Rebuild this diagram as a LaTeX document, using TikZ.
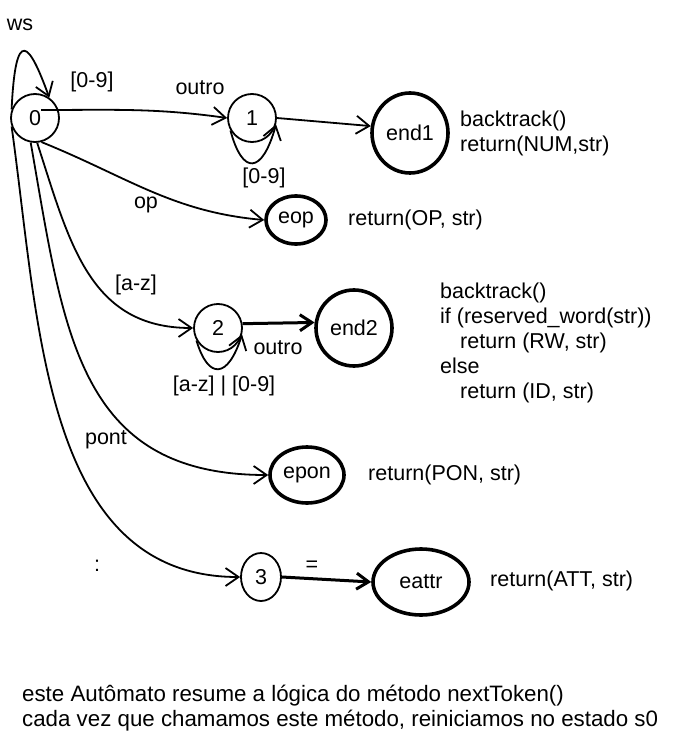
\documentclass[tikz,border=0pt]{standalone}
\usepackage{fontspec}
\setmainfont{Liberation Sans}
\usetikzlibrary{arrows.meta,shapes.geometric}
\begin{document}
\begin{tikzpicture}[x=1pt,y=-1pt,
  every node/.style={font=\fontsize{21.5}{25}\selectfont},
  st/.style={ellipse,draw,line width=1.8pt,inner sep=0pt},
  fin/.style={ellipse,draw,line width=3.6pt,inner sep=0pt},
  arr/.style={line width=1.8pt,-{Straight Barb[length=13pt,width=18pt]}},
  tarr/.style={line width=3pt,-{Straight Barb[length=12pt,width=16pt]}},
  txt/.style={anchor=west,align=left,inner sep=0pt},
  lbl/.style={inner sep=0pt}]
\useasboundingbox (0,0) rectangle (676,751);
\fill[white] (0,0) rectangle (676,751);
% states
\node[st,minimum width=48pt,minimum height=48pt] (s0) at (35,118) {0};
\node[st,minimum width=48pt,minimum height=48pt] (s1) at (252,118) {1};
\node[fin,minimum width=76pt,minimum height=80pt] (end1) at (410,133) {end1};
\node[fin,minimum width=60pt,minimum height=48pt] (eop) at (296,220) {eop};
\node[st,minimum width=48pt,minimum height=48pt] (s2) at (218,328) {2};
\node[fin,minimum width=76pt,minimum height=76pt] (end2) at (354,328) {end2};
\node[fin,minimum width=74pt,minimum height=56pt] (epon) at (307,475) {epon};
\node[st,minimum width=40pt,minimum height=48pt] (s3) at (261,577) {3};
\node[fin,minimum width=96pt,minimum height=66pt] (eattr) at (421,582) {eattr};
% labels
\node[lbl] (lws) at (20,25) {ws};
\node[lbl] (l09a) at (92,82) {[0-9]};
\node[lbl] (loutroa) at (200,88) {outro};
\node[lbl] (l09b) at (264,178) {[0-9]};
\node[txt] (t1) at (460,133) {backtrack()\\return(NUM,str)};
\node[lbl] (lop) at (146,205) {op};
\node[txt] (t2) at (348,220) {return(OP, str)};
\node[lbl] (laz) at (136,285) {[a-z]};
\node[lbl] (laz09) at (224,386) {[a-z] | [0-9]};
\node[lbl] (loutrob) at (278,348) {outro};
\node[txt] (t3) at (440,343) {backtrack()\\if (reserved\_word(str))\\\hspace*{20pt}return (RW, str)\\else\\\hspace*{20pt}return (ID, str)};
\node[lbl] (lpont) at (106,440) {pont};
\node[txt] (t4) at (368,475) {return(PON, str)};
\node[lbl] (lcolon) at (97,566) {:};
\node[lbl] (leq) at (312,566) {=};
\node[txt] (t5) at (490,581) {return(ATT, str)};
\node[txt,font=\fontsize{22.3}{25}\selectfont] (t6) at (22,708) {este Autômato resume a lógica do método nextToken()\\cada vez que chamamos este método, reiniciamos no estado s0};
% transitions
\draw[arr] (s0.160) .. controls +(4,-85) and +(-20,-55) .. (s0.55);
\draw[arr] ([shift={(6,-8)}]s0.center) to[out=0,in=172] (s1.west);
\draw[arr] (s1.210) .. controls +(12,45) and +(-14,50) .. (s1.-15);
\draw[arr] (s1.east) -- (end1.170);
\draw[arr] (s0.-75) to[out=-22,in=175] (eop.west);
\draw[arr] (s0.-85) to[out=-72,in=180,looseness=1.1] (s2.west);
\draw[arr] (s2.210) .. controls +(12,40) and +(-14,44) .. (s2.-15);
\draw[tarr] (s2.10) -- (end2.172);
\draw[arr] (s0.-100) to[out=-80,in=180,looseness=1.2] (epon.west);
\draw[arr] (s0.-160) to[out=-82,in=180] (s3.west);
\draw[tarr] (s3.east) -- (eattr.west);
\end{tikzpicture}
\end{document}
